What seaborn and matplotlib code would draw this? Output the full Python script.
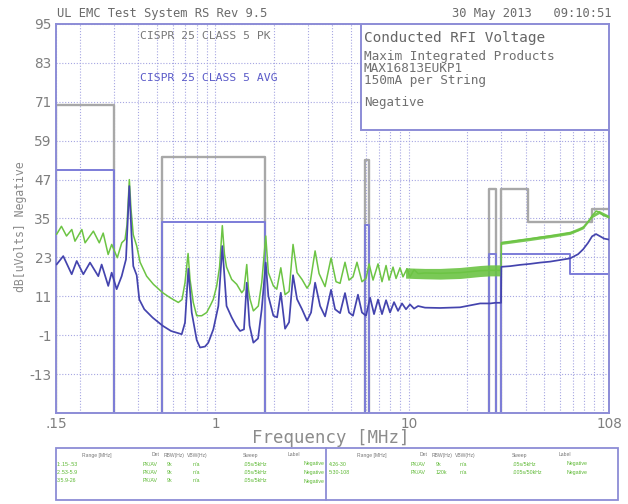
import numpy as np
import pandas as pd
import matplotlib
matplotlib.use("Agg")
import matplotlib.pyplot as plt
import seaborn as sns
from matplotlib.patches import Rectangle
from matplotlib.lines import Line2D

# ---------------- data ----------------
# Peak detector trace (green)
pk_freq = [0.151, 0.160, 0.170, 0.181, 0.188, 0.204, 0.212, 0.234, 0.251, 0.263,
           0.279, 0.291, 0.311, 0.328, 0.341, 0.349, 0.359, 0.366, 0.376, 0.392,
           0.408, 0.441, 0.478, 0.534, 0.582, 0.643, 0.672, 0.696, 0.722, 0.739,
           0.768, 0.800, 0.849, 0.901, 0.938, 0.975, 1.015, 1.050, 1.085, 1.113,
           1.141, 1.213, 1.288, 1.367, 1.404, 1.451, 1.482, 1.509, 1.570, 1.665,
           1.734, 1.819, 1.876, 1.992, 2.074, 2.176, 2.289, 2.401, 2.517, 2.640,
           2.801, 2.974, 3.082, 3.272, 3.431, 3.684, 3.956, 4.198, 4.404, 4.671,
           4.898, 5.135, 5.386, 5.714, 5.999, 6.219, 6.520, 6.918, 7.254, 7.612,
           7.887, 8.270, 8.573, 8.988, 9.311, 9.763, 10.12, 10.62, 11.14, 12.10,
           14.47, 18.36, 20.69, 23.32, 26.28, 28.0, 29.9, 30.0, 33.3, 37.5,
           42.2, 47.6, 53.6, 60.4, 68.0, 74.8, 79.4, 84.2, 88.3, 92.6,
           96.0, 100.7, 108.0]
pk_level = [30.1, 32.6, 29.6, 31.6, 28.0, 31.6, 27.5, 31.1, 27.5, 30.5,
            23.9, 27.0, 22.9, 27.5, 28.5, 33.0, 47.0, 38.0, 30.0, 26.5,
            21.5, 17.2, 14.7, 12.1, 10.6, 9.1, 10.0, 15.2, 24.2, 16.2,
            9.1, 5.0, 5.0, 6.0, 8.0, 10.1, 14.2, 20.0, 32.8, 24.0,
            20.0, 16.2, 14.7, 12.1, 13.0, 20.8, 13.0, 10.1, 6.5, 8.0,
            15.2, 29.6, 18.3, 14.2, 13.2, 19.8, 11.5, 12.5, 27.0, 18.3,
            16.2, 13.5, 15.0, 25.0, 18.0, 14.0, 22.8, 15.5, 15.0, 21.5,
            16.0, 17.0, 21.5, 15.5, 16.5, 21.0, 16.0, 21.0, 15.5, 20.5,
            16.0, 20.0, 16.5, 19.8, 17.0, 19.5, 17.0, 19.2, 18.0, 18.2,
            18.1, 18.3, 18.6, 18.9, 19.0, 19.0, 19.0, 27.5, 27.8, 28.3,
            28.7, 29.2, 29.6, 30.0, 30.6, 31.3, 32.3, 34.0, 35.8, 37.3,
            37.0, 36.0, 35.5]

# Noise envelope of the peak trace
band_freq = [9.6, 10.6, 12.1, 14.5, 18.4, 20.7, 23.3, 26.3, 29.9]
band_lo = [16.6, 16.5, 16.4, 16.3, 16.5, 16.8, 17.1, 17.3, 17.3]
band_hi = [19.8, 19.7, 19.6, 19.6, 19.9, 20.2, 20.5, 20.7, 20.7]
band2_freq = [30.0, 42.2, 53.6, 68.0, 79.4, 88.3, 96.0, 108.0]
band2_lo = [27.0, 28.2, 29.1, 30.1, 31.8, 35.3, 36.5, 35.0]
band2_hi = [28.0, 29.2, 30.1, 31.1, 32.8, 36.3, 37.5, 36.0]

# Average detector trace (blue)
av_freq = [0.151, 0.1635, 0.1808, 0.1919, 0.2076, 0.2248, 0.2481, 0.2582, 0.2793, 0.2909,
           0.3087, 0.3276, 0.3449, 0.3588, 0.3683, 0.3762, 0.3918, 0.4042, 0.4289, 0.4741,
           0.534, 0.5893, 0.6694, 0.6962, 0.7241, 0.754, 0.8001, 0.8323, 0.8833, 0.9187,
           0.975, 1.035, 1.085, 1.141, 1.213, 1.277, 1.340, 1.404, 1.451, 1.500,
           1.570, 1.660, 1.734, 1.819, 1.876, 1.992, 2.082, 2.176, 2.289, 2.401,
           2.517, 2.640, 2.801, 2.974, 3.119, 3.272, 3.473, 3.684, 3.956, 4.149,
           4.404, 4.671, 4.898, 5.135, 5.449, 5.714, 5.999, 6.295, 6.597, 6.918,
           7.254, 7.612, 7.981, 8.370, 8.778, 9.203, 9.650, 10.12, 10.62, 11.14,
           12.10, 14.47, 18.36, 20.69, 23.32, 26.28, 28.0, 29.9, 30.0, 33.3,
           37.5, 42.2, 47.6, 53.6, 60.4, 68.0, 74.8, 79.4, 84.2, 88.3,
           92.6, 97.2, 101.9, 108.0]
av_level = [20.8, 23.4, 17.8, 21.9, 17.8, 21.4, 17.2, 20.8, 14.2, 18.3,
            13.2, 17.2, 22.4, 45.0, 30.0, 20.3, 17.5, 10.0, 7.0, 4.4,
            1.9, 0.3, -0.7, 2.9, 19.5, 6.0, -2.5, -4.8, -4.5, -3.3,
            0.8, 8.0, 26.5, 8.0, 4.5, 2.0, 0.3, 0.8, 15.2, 2.0,
            -3.3, -2.0, 7.0, 21.4, 11.1, 5.0, 4.5, 12.1, 1.0, 3.0,
            17.5, 10.1, 7.0, 3.5, 6.0, 15.2, 8.0, 4.8, 13.0, 7.0,
            5.8, 12.0, 6.0, 5.0, 11.5, 6.0, 5.0, 10.6, 5.5, 10.0,
            5.5, 9.8, 6.0, 9.2, 6.5, 8.8, 7.0, 8.5, 7.2, 8.0,
            7.5, 7.4, 7.6, 8.2, 8.8, 8.8, 9.0, 9.0, 20.1, 20.3,
            20.7, 21.0, 21.4, 21.7, 22.2, 22.7, 24.0, 25.5, 27.5, 29.5,
            30.2, 29.5, 28.8, 28.5]

# CISPR 25 class 5 limit bands (MHz, dBuV)
lim_lo = [0.15, 0.53, 5.9, 26.0]
lim_hi = [0.30, 1.8, 6.2, 28.0]
lim_pk = [70, 54, 53, 44]
lim_av = [50, 34, 33, 24]
# stepped limits above 30 MHz
step_pk_freq = [30, 30, 41, 88, 108]
step_pk_level = [-25, 44, 34, 38, 38]
step_av_freq = [30, 30, 68, 108]
step_av_level = [-25, 24, 18, 18]

y_ticks = [-13, -1, 11, 23, 35, 47, 59, 71, 83, 95]
x_ticks = [0.15, 1, 10, 108]
x_tick_labels = [".15", "1", "10", "108"]
x_minor = [0.2, 0.3, 0.4, 0.5, 0.6, 0.7, 0.8, 0.9,
           2, 3, 4, 5, 6, 7, 8, 9,
           20, 30, 40, 50, 60, 70, 80, 90, 100]

info_lines = ["Maxim Integrated Products", "MAX16813EUKP1", "150mA per String"]

tbl_head = ["Range [MHz]", "Det", "RBW(Hz)", "VBW(Hz)", "Sweep", "Label"]
tbl_left = [["1:.15-.53", "PK/AV", "9k", "n/a", ".05s/5kHz", "Negative"],
            ["2:.53-5.9", "PK/AV", "9k", "n/a", ".05s/5kHz", "Negative"],
            ["3:5.9-26", "PK/AV", "9k", "n/a", ".05s/5kHz", "Negative"]]
tbl_right = [["4:26-30", "PK/AV", "9k", "n/a", ".05s/5kHz", "Negative"],
             ["5:30-108", "PK/AV", "120k", "n/a", ".005s/50kHz", "Negative"]]

# ---------------- style ----------------
sns.set_style("white")
plt.rcParams["font.family"] = ["DejaVu Sans"]
plt.rcParams["axes.unicode_minus"] = False

GREEN = "#6cc444"
BLUE = "#4444ae"
GRID = "#a6a6e2"
BORDER = "#8c8cd6"
PKLIM = "#a8a8a8"
AVLIM = "#7c7cd8"
MONO = "DejaVu Sans Mono"

W, H = 628, 504
fig = plt.figure(figsize=(W / 100, H / 100), dpi=100)


def fx(px):
    return px / W


def fy(py):
    return 1 - py / H


ax = fig.add_axes([fx(56), fy(413), (609 - 56) / W, (413 - 24) / H])
ax.set_xscale("log")
ax.set_xlim(0.15, 108)
ax.set_ylim(-25, 95)

ax.set_xticks(x_ticks)
ax.set_xticklabels(x_tick_labels)
ax.set_xticks(x_minor, minor=True)
ax.set_xticklabels([], minor=True)
ax.set_yticks(y_ticks)
ax.tick_params(which="both", length=0, colors="#7e7e7e", labelsize=9.8, pad=3)
ax.grid(True, which="both", axis="x", color=GRID, ls=(0, (1, 1.6)), lw=0.8)
ax.grid(True, which="major", axis="y", color=GRID, ls=(0, (1, 1.6)), lw=0.8)
for s in ax.spines.values():
    s.set_color(BORDER)
    s.set_linewidth(1.4)

# limit lines (peak in grey, average in blue)
for lo, hi, lv in zip(lim_lo, lim_hi, lim_pk):
    ax.plot([lo, lo, hi, hi], [-25, lv, lv, -25], color=PKLIM, lw=1.7, zorder=2)
ax.plot(step_pk_freq, step_pk_level, drawstyle="steps-post", color=PKLIM, lw=1.7, zorder=2)
for lo, hi, lv in zip(lim_lo, lim_hi, lim_av):
    ax.plot([lo, lo, hi, hi], [-25, lv, lv, -25], color=AVLIM, lw=1.4, zorder=2.5)
ax.plot(step_av_freq, step_av_level, drawstyle="steps-post", color=AVLIM, lw=1.4, zorder=2.5)

# traces
pk_df = pd.DataFrame({"freq": pk_freq, "level": pk_level})
av_df = pd.DataFrame({"freq": av_freq, "level": av_level})
ax.fill_between(band_freq, band_lo, band_hi, color=GREEN, lw=0, alpha=0.9, zorder=3)
ax.fill_between(band2_freq, band2_lo, band2_hi, color=GREEN, lw=0, alpha=0.9, zorder=3)
sns.lineplot(data=pk_df, x="freq", y="level", color=GREEN, lw=1.1,
             estimator=None, sort=False, ax=ax, zorder=3)
sns.lineplot(data=av_df, x="freq", y="level", color=BLUE, lw=1.25,
             estimator=None, sort=False, ax=ax, zorder=4)
ax.set_xlabel("")
ax.set_ylabel("")

# info box in the upper right
x0 = (361 - 56) / (609 - 56)
y0 = (413 - 130) / (413 - 24)
ax.add_patch(Rectangle((x0, y0), 1 - x0, 1 - y0, transform=ax.transAxes,
                       facecolor="white", edgecolor=BORDER, lw=1.4, zorder=5))
fig.text(fx(364), fy(38), "Conducted RFI Voltage", family=MONO, fontsize=10.4,
         color="#666666", va="center", ha="left")
fig.text(fx(364), fy(50), "\n".join(info_lines), family=MONO, fontsize=9.2,
         color="#707070", va="top", ha="left", linespacing=0.9)
fig.text(fx(364), fy(103), "Negative", family=MONO, fontsize=9.0,
         color="#707070", va="center", ha="left")

# limit annotations
fig.text(fx(140), fy(36), "CISPR 25 CLASS 5 PK", family=MONO, fontsize=8.2,
         color="#777777", va="center", ha="left")
fig.text(fx(140), fy(78), "CISPR 25 CLASS 5 AVG", family=MONO, fontsize=8.2,
         color="#5a5ac8", va="center", ha="left")

# header
fig.text(fx(57), fy(14), "UL EMC Test System RS Rev 9.5", family=MONO,
         fontsize=8.7, color="#6a6a6a", va="center", ha="left")
fig.text(fx(612), fy(14), "30 May 2013   09:10:51", family=MONO,
         fontsize=8.7, color="#6a6a6a", va="center", ha="right")

# axis titles
fig.text(fx(21), fy(227), "dB[uVolts] Negative", family=MONO, fontsize=8.3,
         color="#8a8a8a", rotation=90, va="center", ha="center")
fig.text(fx(331), fy(438), "Frequency [MHz]", family=MONO, fontsize=12.5,
         color="#8c8c8c", va="center", ha="center")

# bottom settings table
fig.patches.append(Rectangle((fx(56), fy(500)), (618 - 56) / W, (500 - 448) / H,
                             transform=fig.transFigure, fill=False,
                             edgecolor=BORDER, lw=1.3))
fig.lines.append(Line2D([fx(326), fx(326)], [fy(500), fy(448)],
                        transform=fig.transFigure, color=BORDER, lw=1.3))
TF = "Liberation Sans"
head_l = [97, 156, 174, 197, 251, 294]
head_r = [372, 424, 442, 465, 520, 565]
col_l = [57, 143, 167, 193, 244, 304]
col_r = [329, 411, 436, 460, 513, 567]
for t, xl, xr in zip(tbl_head, head_l, head_r):
    fig.text(fx(xl), fy(455), t, family=TF, fontsize=3.6, color="#777777",
             ha="center", va="center")
    fig.text(fx(xr), fy(455), t, family=TF, fontsize=3.6, color="#777777",
             ha="center", va="center")
for r, row in enumerate(tbl_left):
    for t, xc in zip(row, col_l):
        fig.text(fx(xc), fy(464 + 8.5 * r), t, family=TF, fontsize=3.8,
                 color="#5cb832", ha="left", va="center")
for r, row in enumerate(tbl_right):
    for t, xc in zip(row, col_r):
        fig.text(fx(xc), fy(464 + 8.5 * r), t, family=TF, fontsize=3.8,
                 color="#5cb832", ha="left", va="center")

fig.savefig("out.png", dpi=100, facecolor="white")
